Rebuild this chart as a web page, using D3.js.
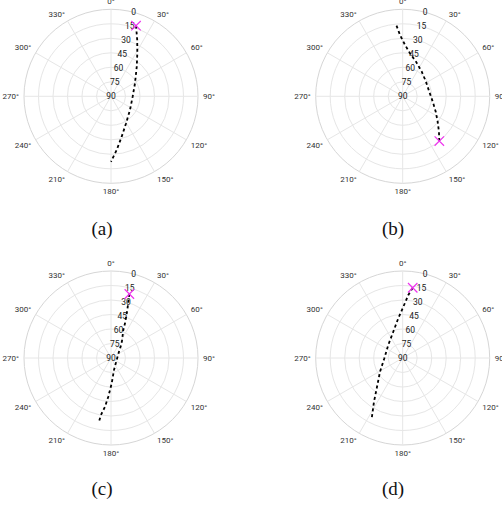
<!DOCTYPE html>
<html>
<head>
<meta charset="utf-8">
<script src="https://cdn.jsdelivr.net/npm/d3@7"></script>
<style>
  body { margin: 0; background: #fff; }
  svg { display: block; }
</style>
</head>
<body>
<script>
// sky tracks, azimuth (deg, clockwise from north) and elevation (deg)
// first point of each track is where the x marker sits
const azA = [19.5, 25.0, 31.5, 41.0, 61.6, 91, 125.8, 150.9, 165.2, 174, 180]
const elA = [12.5, 25.8, 37.9, 49.4, 61.8, 67.6, 65.8, 58.0, 46.8, 34.1, 22.3]

const azB = [140.7, 134.3, 126, 115, 100.2, 80.2, 58, 37.7, 21.0, 9.6, 2.6, -2.5, -5.3]
const elB = [30.2, 37.6, 45.3, 52.3, 58.4, 62.1, 61.6, 57.8, 51.6, 44.9, 36.8, 26.5, 15.2]

const azC = [16.0, 18.8, 22, 23.7, 36, 51.8, 109, 166, 178.4, 184, 187, 190, 190.7]
const elC = [21.1, 37.6, 51.3, 58.3, 71.2, 79.5, 83.8, 77.2, 63.8, 49.9, 39.3, 30.1, 23]

const azD = [8.1, 5.1, 0.7, -6.3, -19.7, -48, -91, -121.1, -139.4, -146.7, -152.8]
const elD = [16.6, 24.6, 37, 48.6, 61.1, 69.9, 71, 62.6, 48.7, 35.9, 19.9]

const captions = ['(a)', '(b)', '(c)', '(d)']
const elevTicks = [0, 15, 30, 45, 60, 75, 90]
const azTicks = [0, 30, 60, 90, 120, 150, 180, 210, 240, 270, 300, 330]

const width = 502
const height = 508
const R = 87
const centers = [[111, 96.3], [402.7, 96.3], [111, 358], [402.7, 358]]
const captionPos = [[102, 235], [393, 235], [102, 495], [393, 495]]

const tracks = [[azA, elA], [azB, elB], [azC, elC], [azD, elD]]

const svg = d3.select('body').append('svg')
  .attr('width', width)
  .attr('height', height)

const r = d3.scaleLinear().domain([90, 0]).range([0, R])
const ang = d3.scaleLinear().domain([0, 360]).range([0, 2 * Math.PI])

const line = d3.lineRadial()
  .angle(d => ang(d[0]))
  .radius(d => r(d[1]))

tracks.forEach((t, i) => {
  const g = svg.append('g')
    .attr('transform', `translate(${centers[i][0]},${centers[i][1]})`)

  // rings
  g.selectAll('circle.ring')
    .data(elevTicks.slice(0, -1))
    .join('circle')
    .attr('r', d => r(d))
    .attr('fill', 'none')
    .attr('stroke', d => d === 0 ? '#d6d6d6' : '#e6e6e6')
    .attr('stroke-width', 1)

  // spokes
  g.selectAll('line.spoke')
    .data(azTicks)
    .join('line')
    .attr('x1', 0).attr('y1', 0)
    .attr('x2', d => R * Math.sin(ang(d)))
    .attr('y2', d => -R * Math.cos(ang(d)))
    .attr('stroke', '#e6e6e6')
    .attr('stroke-width', 1)

  // angular labels
  g.selectAll('text.az')
    .data(azTicks)
    .join('text')
    .attr('x', d => (R + 5) * Math.sin(ang(d)))
    .attr('y', d => -(R + 5) * Math.cos(ang(d)))
    .attr('text-anchor', d => {
      const s = Math.sin(ang(d))
      return s > 0.1 ? 'start' : s < -0.1 ? 'end' : 'middle'
    })
    .attr('dy', d => {
      const c = Math.cos(ang(d))
      return c > 0.1 ? '0em' : c < -0.1 ? '0.72em' : '0.35em'
    })
    .attr('font-family', 'Roboto, "Open Sans", sans-serif')
    .attr('font-size', 8)
    .attr('fill', '#333')
    .text(d => d + '°')

  // radial labels along 15 deg
  g.selectAll('text.el')
    .data(elevTicks)
    .join('text')
    .attr('x', d => r(d) * Math.sin(ang(15)))
    .attr('y', d => -r(d) * Math.cos(ang(15)))
    .attr('dy', '0.35em')
    .attr('text-anchor', 'middle')
    .attr('font-family', 'Roboto, "Open Sans", sans-serif')
    .attr('font-size', 8.5)
    .attr('fill', '#222')
    .text(d => d)

  const pts = t[0].map((a, k) => [a, t[1][k]])

  g.append('path')
    .datum(pts)
    .attr('d', line)
    .attr('fill', 'none')
    .attr('stroke', '#000')
    .attr('stroke-width', 1.8)
    .attr('stroke-dasharray', '3,2.8')

  g.append('path')
    .attr('d', d3.symbol(d3.symbolTimes, 60)())
    .attr('transform', `translate(${r(pts[0][1]) * Math.sin(ang(pts[0][0]))},${-r(pts[0][1]) * Math.cos(ang(pts[0][0]))})`)
    .attr('fill', 'none')
    .attr('stroke', '#ee33ee')
    .attr('stroke-width', 1.2)

  svg.append('text')
    .attr('x', captionPos[i][0])
    .attr('y', captionPos[i][1])
    .attr('text-anchor', 'middle')
    .attr('font-family', '"Liberation Serif", "Times New Roman", serif')
    .attr('font-size', 19)
    .attr('fill', '#111')
    .text(captions[i])
})
</script>
</body>
</html>
